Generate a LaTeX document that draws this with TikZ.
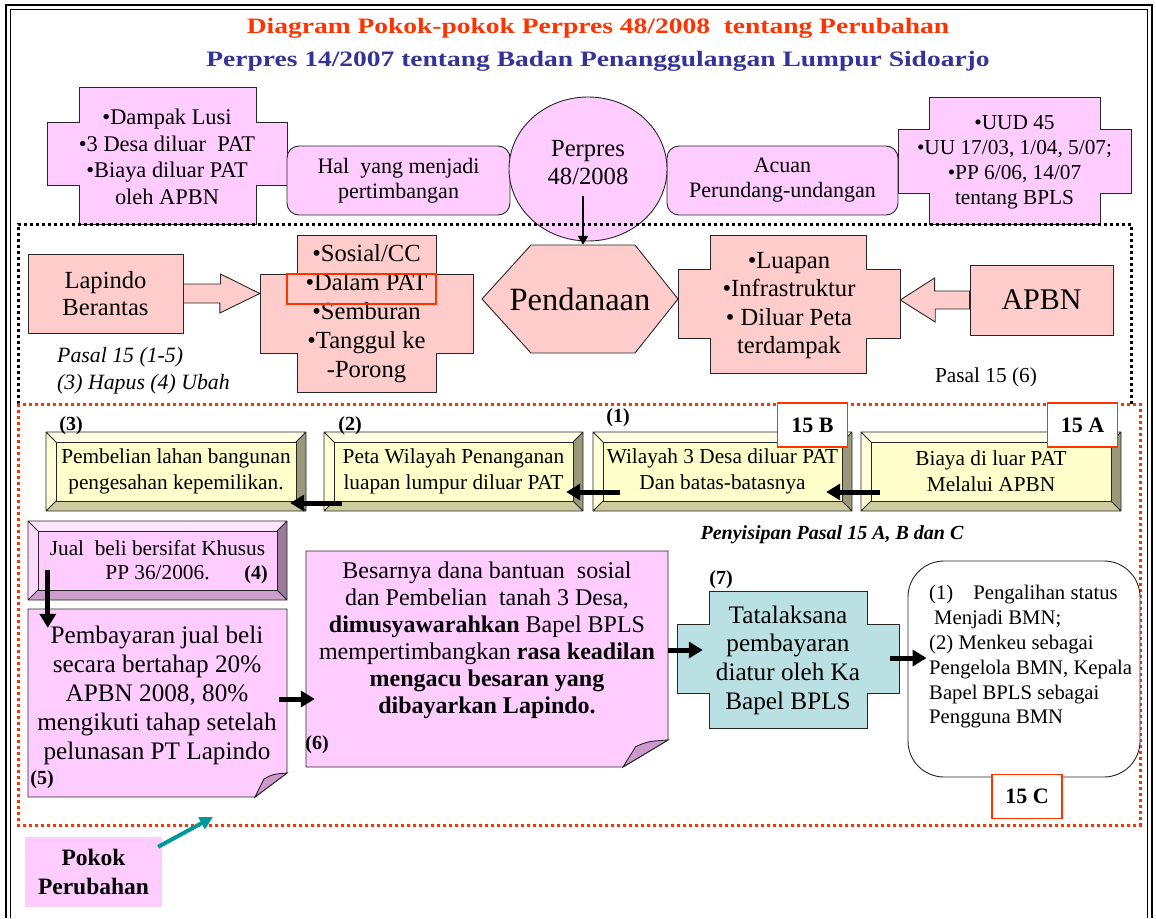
\documentclass[tikz,border=0pt]{standalone}
\usepackage{fontspec}
\setmainfont{Liberation Serif}
\newfontfamily\titlefamily{Liberation Serif}[FakeStretch=1.25]
\usetikzlibrary{calc,arrows.meta,shapes.geometric}
\definecolor{lilac}{HTML}{FFCCFF}
\definecolor{lilacfold}{HTML}{CC99CC}
\definecolor{salmon}{HTML}{FFCCCC}
\definecolor{aqua}{HTML}{BBE0E3}
\definecolor{titlered}{HTML}{FF3300}
\definecolor{titleblue}{HTML}{333399}
\definecolor{dotred}{HTML}{FF3300}
\definecolor{tealarrow}{HTML}{009999}
\definecolor{yelface}{HTML}{FFFFCC}
\definecolor{yellight}{HTML}{FFFFE6}
\definecolor{yelside}{HTML}{FFFFD9}
\definecolor{yeldark}{HTML}{99997A}
\definecolor{yelmid}{HTML}{CCCC9E}
\definecolor{purface}{HTML}{FFCCFF}
\definecolor{purlight}{HTML}{FFE6FF}
\definecolor{purside}{HTML}{FFD9FF}
\definecolor{purdark}{HTML}{997A99}
\definecolor{purmid}{HTML}{CC9ECC}
\newcommand{\fsz}[2]{\fontsize{#1}{#2}\selectfont}
\tikzset{%
  boxline/.style={draw=black!85,line width=0.9pt},
  lilacbox/.style={boxline,fill=lilac},
  salmonbox/.style={boxline,fill=salmon},
  txt/.style={align=center,inner sep=0},
  numlbl/.style={inner sep=0,font=\bfseries\fsz{20}{22}},
  tagbox/.style={draw=dotred,fill=white,line width=1.1pt,inner sep=0,minimum width=70,minimum height=44,font=\bfseries\fsz{22}{24}},
  blackdots/.style={line width=3pt,dash pattern=on 3pt off 3pt},
  reddots/.style={blackdots,draw=dotred},
  fatarrow/.style={line width=5pt,-{Triangle[length=14pt,width=16pt]}},
  thinarrow/.style={line width=2.5pt,-{Triangle[length=9pt,width=10pt]}},
  blockarrow/.style={boxline,fill=salmon}
}
% cross: style, vertical bar x1 x2 y1 y2, horizontal bar x1 x2 y1 y2
\newcommand{\crossbox}[9]{\draw[#1] (#2,#4) -- (#3,#4) -- (#3,#8) -- (#7,#8) -- (#7,#9) -- (#3,#9) -- (#3,#5) -- (#2,#5) -- (#2,#9) -- (#6,#9) -- (#6,#8) -- (#2,#8) -- cycle;}
\newcommand{\bevelbox}[8]{%
  \fill[#6light] (#2,#3) -- (#4,#3) -- (#4-10,#3+10) -- (#2+10,#3+10) -- cycle;
  \fill[#6side] (#2,#3) -- (#2+10,#3+10) -- (#2+10,#5-10) -- (#2,#5) -- cycle;
  \fill[#6dark] (#4,#3) -- (#4,#5) -- (#4-10,#5-10) -- (#4-10,#3+10) -- cycle;
  \fill[#6mid] (#2,#5) -- (#4,#5) -- (#4-10,#5-10) -- (#2+10,#5-10) -- cycle;
  \draw[boxline,fill=#6face] (#2+10,#3+10) rectangle (#4-10,#5-10);
  \draw[boxline] (#2,#3) rectangle (#4,#5) (#2,#3) -- (#2+10,#3+10) (#4,#3) -- (#4-10,#3+10)
    (#2,#5) -- (#2+10,#5-10) (#4,#5) -- (#4-10,#5-10);
  \node[txt,minimum width={#4-#2},minimum height={#5-#3},font=#7] (#1) at ({(#2+#4)/2},{(#3+#5)/2}) {#8};}
\newcommand{\notebox}[7]{%
  \draw[lilacbox] (#2,#3) -- (#4,#3) -- (#4,#5-#7) -- (#4-#6,#5) -- (#2,#5) -- cycle;
  \draw[boxline,fill=lilacfold] (#4,#5-#7) .. controls (#4-0.45*#6,#5-0.95*#7) .. (#4-0.72*#6,#5-0.75*#7) -- (#4-#6,#5) -- cycle;
  \node[inner sep=0,minimum width={#4-#2},minimum height={#5-#3}] (#1) at ({(#2+#4)/2},{(#3+#5)/2}) {};}

\begin{document}
\begin{tikzpicture}[x=1pt,y=-1pt]
  \useasboundingbox (0,0) rectangle (1156,918);
  \draw[line width=2pt] (6,918) -- (6,5) -- (1152,5) -- (1152,918);
  \draw[line width=0.8pt] (10.5,918) -- (10.5,9.5) -- (1147.5,9.5) -- (1147.5,918);

  \node[font=\titlefamily\bfseries\fsz{22}{26},text=titlered] (title) at (598,28) {Diagram Pokok-pokok Perpres 48/2008~~tentang Perubahan};
  \node[font=\titlefamily\bfseries\fsz{22}{26},text=titleblue] (subtitle) at (598,61) {Perpres 14/2007 tentang Badan Penanggulangan Lumpur Sidoarjo};

  % top row
  \crossbox{lilacbox}{79}{256}{87}{224}{47}{287}{122}{185}
  \node[txt,minimum width=240,minimum height=63,font=\fsz{22.4}{26.5}] (dampak) at (167,157) {•Dampak Lusi\\•3 Desa diluar~~PAT\\•Biaya diluar PAT\\oleh APBN};
  \node[lilacbox,rounded corners=12,txt,minimum width=223,minimum height=69,font=\fsz{22}{25}] (hal) at (398.5,180.5) {Hal~~yang menjadi\\pertimbangan};
  \node[lilacbox,rounded corners=12,txt,minimum width=231,minimum height=69,font=\fsz{22}{25}] (acuan) at (782.5,180.5) {Acuan\\Perundang-undangan};
  \node[ellipse,lilacbox,txt,text depth=14pt,minimum width=158,minimum height=144,font=\fsz{24.6}{28}] (perpres) at (588,169) {Perpres\\48/2008};
  \crossbox{lilacbox}{929}{1100}{97}{224}{898}{1131}{129}{193}
  \node[txt,minimum width=233,minimum height=64,font=\fsz{21.3}{25}] (uud) at (1014.5,162) {•UUD 45\\•UU 17/03, 1/04, 5/07;\\•PP 6/06, 14/07\\tentang BPLS};

  % pendanaan
  \node[salmonbox,txt,minimum width=155,minimum height=79,font=\fsz{24.6}{27}] (lapindo) at (105.5,293.5) {Lapindo\\Berantas};
  \crossbox{salmonbox}{297}{436}{235}{392}{260}{473}{274}{353}
  \node[txt,minimum width=213,minimum height=79,font=\fsz{24.6}{29}] (sosial) at (366.5,314) {•Sosial/CC\\•Dalam PAT\\•Semburan\\•Tanggul ke\\-Porong};
  \draw[draw=dotred,line width=1.2pt] (287,274) rectangle (436,304);
  \draw[blockarrow] ([yshift=9.5pt]lapindo.east) -- ++(37,0) -- ++(0,-10) -- (sosial.west |- lapindo.east)
    -- ++(-40,19.5) -- ++(0,-10) -- ([yshift=-9.5pt]lapindo.east) -- cycle;
  \draw[salmonbox] (482,299) -- (531,245) -- (635,245) -- (678,299) -- (635,353) -- (531,353) -- cycle;
  \node[txt,minimum width=196,minimum height=108,font=\fsz{32.5}{34}] (pend) at (580,299) {Pendanaan};
  \crossbox{salmonbox}{710}{866}{235}{373}{678}{900}{269}{338}
  \node[txt,minimum width=222,minimum height=69,font=\fsz{24.6}{28.5}] (luapan) at (789,305.5) {•Luapan\\•Infrastruktur\\• Diluar Peta\\terdampak};
  \node[salmonbox,inner sep=0,minimum width=143,minimum height=70,font=\fsz{30}{30}] (apbn) at (1041.5,300) {APBN};
  \draw[blockarrow] ([yshift=9pt]apbn.west) -- ++(-35,0) -- ++(0,-13) -- (luapan.east |- apbn.west)
    -- ++(35,22) -- ++(0,-13) -- ([yshift=-9pt]apbn.west) -- cycle;
  \draw[thinarrow] ([xshift=-5pt,yshift=45pt]perpres.south) -- ([xshift=3pt]pend.north);
  \node[anchor=west,align=left,inner sep=0,font=\itshape\fsz{21.8}{27}] (pasalA) at (57,370.5) {Pasal 15 (1-5)\\(3) Hapus (4) Ubah};
  \node[inner sep=0,font=\fsz{21.3}{22}] (pasalB) at (986,377) {Pasal 15 (6)};

  \draw[blackdots] (18,404) -- (18,224) -- (1131,224) -- (1131,404);
  \draw[reddots] (18,404) rectangle (1140,825);

  % pasal 15 A, B
  \bevelbox{bthree}{46}{432}{306}{511}{yel}{\fsz{21.3}{26}}{Pembelian lahan bangunan\\pengesahan kepemilikan.}
  \bevelbox{btwo}{324}{432}{583}{511}{yel}{\fsz{21.3}{26}}{Peta Wilayah Penanganan\\luapan lumpur diluar PAT}
  \bevelbox{bone}{593}{432}{852}{511}{yel}{\fsz{21.3}{26}}{Wilayah 3 Desa diluar PAT\\Dan batas-batasnya}
  \bevelbox{bfifteen}{861}{432}{1121}{511}{yel}{\fsz{21.3}{26}}{Biaya di luar PAT\\Melalui APBN}
  \node[numlbl] (nthree) at (71,426) {(3)};
  \node[numlbl] (ntwo) at (350,426) {(2)};
  \node[numlbl] (none) at (618,418) {(1)};
  \node[tagbox] (tagb) at (812.5,425) {15 B};
  \node[tagbox] (taga) at (1082.5,425) {15 A};
  \draw[fatarrow] ([xshift=19pt,yshift=-20.5pt]bfifteen.west) -- ([xshift=-26pt,yshift=-20.5pt]bone.east);
  \draw[fatarrow] ([xshift=27pt,yshift=-20.5pt]bone.west) -- ([xshift=-17pt,yshift=-20.5pt]btwo.east);
  \draw[fatarrow] ([xshift=18pt,yshift=-31.5pt]btwo.west) -- ([xshift=-16pt,yshift=-31.5pt]bthree.east);
  \node[inner sep=0,font=\bfseries\itshape\fsz{20}{22}] (sisip) at (832,535) {Penyisipan Pasal 15 A, B dan C};

  % jual beli, pembayaran
  \bevelbox{jual}{28}{521}{287}{600}{pur}{\fsz{21.3}{24}}{Jual~~beli bersifat Khusus\\PP 36/2006.}
  \node[numlbl] (nfour) at (256,575) {(4)};
  \notebox{nfive}{28}{609}{287}{797}{32}{24}
  \node[txt,font=\fsz{25.2}{29}] (tfive) at (157,695) {Pembayaran jual beli\\secara bertahap 20\%\\APBN 2008, 80\%\\mengikuti tahap setelah\\pelunasan PT Lapindo};
  \node[numlbl] (nfivelbl) at (42,780) {(5)};
  \notebox{nsix}{306}{551}{668}{767}{45}{27}
  \node[txt,font=\fsz{24}{27}] (tsix) at (487,640) {Besarnya dana bantuan~~sosial\\dan Pembelian~~tanah 3 Desa,\\\textbf{dimusyawarahkan} Bapel BPLS\\mempertimbangkan \textbf{rasa keadilan}\\\textbf{mengacu besaran yang}\\\textbf{dibayarkan Lapindo.}};
  \node[numlbl] (nsixlbl) at (317,745) {(6)};
  \crossbox{boxline,fill=aqua}{709}{867}{591}{728}{677}{899}{624}{693}
  \node[txt,minimum width=222,minimum height=69,font=\fsz{25.2}{28.7}] (tata) at (788,660) {Tatalaksana\\pembayaran\\diatur oleh Ka\\Bapel BPLS};
  \node[numlbl] (nseven) at (721,580) {(7)};
  \node[boxline,fill=white,rounded corners=36,inner sep=0,minimum width=232,minimum height=216] (bmn) at (1024,669) {};
  \node[anchor=west,align=left,inner sep=0,font=\fsz{20.7}{24.8}] (bmntext) at (929,657) {(1)\hspace{20pt}Pengalihan status\\\hspace{5pt}Menjadi BMN;\\(2) Menkeu sebagai\\Pengelola BMN, Kepala\\Bapel BPLS sebagai\\Pengguna BMN};
  \node[tagbox] (tagc) at (1027,796.5) {15 C};
  \draw[fatarrow] ([xshift=20pt,yshift=-9.5pt]jual.west) -- ([xshift=20pt,yshift=-19pt]nfive.north west);
  \draw[fatarrow] ([xshift=-8pt,yshift=4pt]nfive.east) -- ([xshift=9pt,yshift=-40pt]nsix.west);
  \draw[fatarrow] ([yshift=9pt]nsix.east) -- ([xshift=26pt,yshift=10pt]tata.west);
  \draw[fatarrow] ([xshift=-9pt,yshift=2pt]tata.east) -- ([xshift=19pt,yshift=11pt]bmn.west);

  \node[fill=lilac,txt,minimum width=137,minimum height=70,font=\bfseries\fsz{23.5}{29}] (pokok) at (93.5,872) {Pokok\\Perubahan};
  \coordinate (pokoktip) at (213,817);
  \draw[line width=4pt,draw=tealarrow,-{Triangle[length=13pt,width=13pt]}] ([xshift=-4pt,yshift=-10pt]pokok.north east) -- (pokoktip);
\end{tikzpicture}
\end{document}
